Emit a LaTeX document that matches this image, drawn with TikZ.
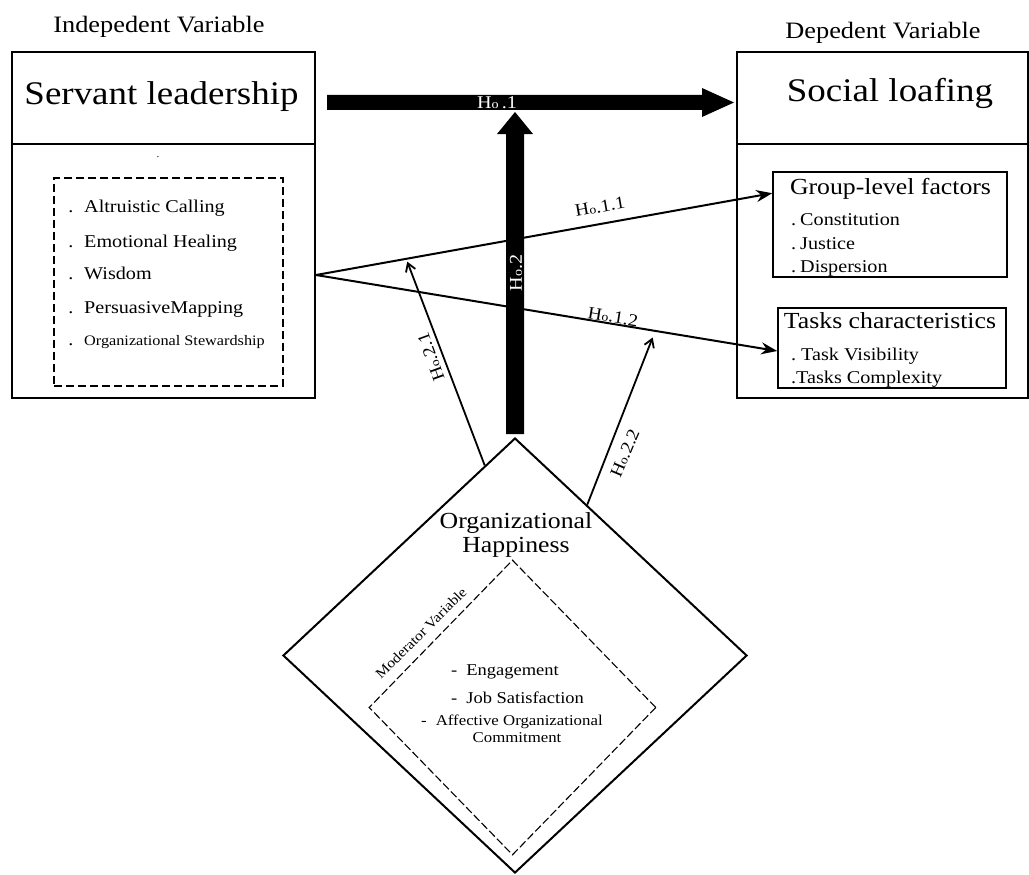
\documentclass[tikz,border=0pt]{standalone}
\usepackage{fontspec}
\setmainfont{Liberation Serif}[FakeStretch=1.12]
\usetikzlibrary{arrows.meta,calc,shapes.geometric}

\newcommand\Hnull{H\scalebox{0.7}{o}}
\newcommand\fsz[1]{\fontsize{#1}{#1}\selectfont}

\begin{document}
\begin{tikzpicture}[x=1pt,y=-1pt,
  box/.style={draw,line width=2pt,inner sep=0pt},
  subbox/.style={draw,line width=1.6pt,inner sep=0pt},
  dbox/.style={draw,line width=1.3pt,dash pattern=on 8pt off 4pt,inner sep=0pt},
  lbl/.style={inner sep=0pt},
  link/.style={line width=2pt,-{Stealth[length=16pt,width=12pt]}},
  mod/.style={line width=1.8pt,-{Straight Barb[length=8pt,width=10pt]}},
  hyp/.style={inner sep=0pt,font=\fsz{17.5}},
  bold hyp/.style={inner sep=0pt,font=\fsz{18},text=white}]
\useasboundingbox (0,0) rectangle (1029,875);

% ---------- independent variable ----------
\node[lbl,anchor=base,font=\fsz{23.5}] (ivlabel) at (159,33) {Indepedent Variable};
\node[box,minimum width=303pt,minimum height=92pt] (slhead) at (163.5,98) {};
\node[box,minimum width=303pt,minimum height=254pt] (slbody) at (163.5,271) {};
\node[lbl,anchor=base,font=\fsz{33}] (sltitle) at (161.5,105) {Servant leadership};
\node[lbl,font=\fsz{10}] (slmark) at (158,157) {.};
\node[dbox,minimum width=229pt,minimum height=208pt] (sldim) at (168.5,282) {};
\foreach \t/\yy/\s [count=\i] in {Altruistic Calling/212/18,Emotional Healing/247/18,
    Wisdom/279/18,PersuasiveMapping/313/18,Organizational Stewardship/345/14.5}{
  \node[lbl,anchor=base,font=\fsz{18}] (sldot-\i) at (71,\yy) {.};
  \node[lbl,anchor=base west,font=\fsz{\s}] (slitem-\i) at (84,\yy) {\t};
}

% ---------- dependent variable ----------
\node[lbl,anchor=base,font=\fsz{23.5}] (dvlabel) at (883,39) {Depedent Variable};
\node[box,minimum width=291pt,minimum height=92pt] (sfhead) at (882.5,98) {};
\node[box,minimum width=291pt,minimum height=254pt] (sfbody) at (882.5,271) {};
\node[lbl,anchor=base,font=\fsz{33}] (sftitle) at (890,102) {Social loafing};

\node[subbox,minimum width=234pt,minimum height=105pt] (grp) at (890,224.5) {};
\node[lbl,anchor=base,font=\fsz{23}] (grptitle) at (890.5,194) {Group-level factors};
\foreach \t/\yy [count=\i] in {Constitution/225,Justice/249,Dispersion/272}{
  \node[lbl,anchor=base west,font=\fsz{18}] (grpitem-\i) at (791,\yy) {.\hspace{4pt}\t};
}

\node[subbox,minimum width=228pt,minimum height=80pt] (tsk) at (892,348) {};
\node[lbl,anchor=base,font=\fsz{23}] (tsktitle) at (890,328) {Tasks characteristics};
\node[lbl,anchor=base west,font=\fsz{18}] (tskitem-1) at (791,360) {.\hspace{5pt}Task Visibility};
\node[lbl,anchor=base west,font=\fsz{18}] (tskitem-2) at (791,383) {.Tasks Complexity};

% ---------- moderator ----------
\node[diamond,draw,line width=2pt,minimum width=464pt,minimum height=435pt,inner sep=0pt] (oh) at (515,655.5) {};
\node[diamond,draw,line width=1.1pt,dash pattern=on 8pt off 3pt,minimum width=287pt,minimum height=295pt,inner sep=0pt] (ohin) at (512.5,707.5) {};
\node[lbl,anchor=base,align=center,font=\fontsize{23}{24}\selectfont] (ohtitle) at (516,552) {Organizational\\Happiness};
\node[lbl,rotate=45,font=\fsz{14}] (modlabel) at (421,633) {Moderator Variable};
\node[lbl,anchor=base west,font=\fsz{16.5}] (ohitem-1) at (451,675) {-\hspace{9pt}Engagement};
\node[lbl,anchor=base west,font=\fsz{16.5}] (ohitem-2) at (451,703) {-\hspace{9pt}Job Satisfaction};
\node[lbl,anchor=base west,font=\fsz{15}] (ohitem-3) at (421,725) {-\hspace{9pt}Affective Organizational};
\node[lbl,anchor=base,font=\fsz{15}] (ohitem-4) at (517,742) {Commitment};

% ---------- thin hypothesis paths ----------
\coordinate (src) at ($(slbody.east)+(0,4)$);
\coordinate (g-in) at ($(grp.north west)+(0,22)$);
\coordinate (t-in) at ($(tsk.west)+(0,3)$);
\draw[link] (src) -- (g-in);
\draw[link] (src) -- (t-in);

\coordinate (m1s) at ($(oh.north)!0.13!(oh.west)$);
\coordinate (m1e) at ($(src)!0.2!(g-in)+(0,3)$);
\coordinate (m2s) at ($(oh.north)!0.31!(oh.east)$);
\coordinate (m2e) at ($(src)!0.73!(t-in)+(0,7)$);
\draw[mod] (m1s) -- (m1e);
\draw[mod] (m2s) -- (m2e);

\node[hyp,rotate=10] (h11) at (600,207) {\Hnull.1.1};
\node[hyp,rotate=-9.3] (h12) at (613,317) {\Hnull.1.2};
\node[hyp,rotate=110] (h21) at (431,357) {\Hnull.2.1};
\node[hyp,rotate=67] (h22) at (625,453) {\Hnull.2.2};

% ---------- thick hypothesis arrows ----------
\coordinate (a1s) at ($(slhead.east)+(11,4.5)$);
\coordinate (a1e) at ($(sfhead.west)+(-2,4.5)$);
\fill ($(a1s)+(0,-7.5)$) -- ($(a1e)+(-32,-7.5)$) -- ($(a1e)+(-32,-14.5)$) -- (a1e)
  -- ($(a1e)+(-32,14.5)$) -- ($(a1e)+(-32,7.5)$) -- ($(a1s)+(0,7.5)$) -- cycle;

\coordinate (a2s) at ($(oh.north)+(0,-3)$);
\coordinate (a2e) at ($(a1s -| a2s)+(0,9.5)$);
\fill ($(a2s)+(-9,0)$) -- ($(a2e)+(-9,22)$) -- ($(a2e)+(-18,22)$) -- (a2e)
  -- ($(a2e)+(18,22)$) -- ($(a2e)+(9,22)$) -- ($(a2s)+(9,0)$) -- cycle;

\node[bold hyp,anchor=base] (h1) at (497,109) {\Hnull\,.1};
\node[bold hyp,rotate=90] (h2) at (516,273) {\Hnull.2};
\end{tikzpicture}
\end{document}
